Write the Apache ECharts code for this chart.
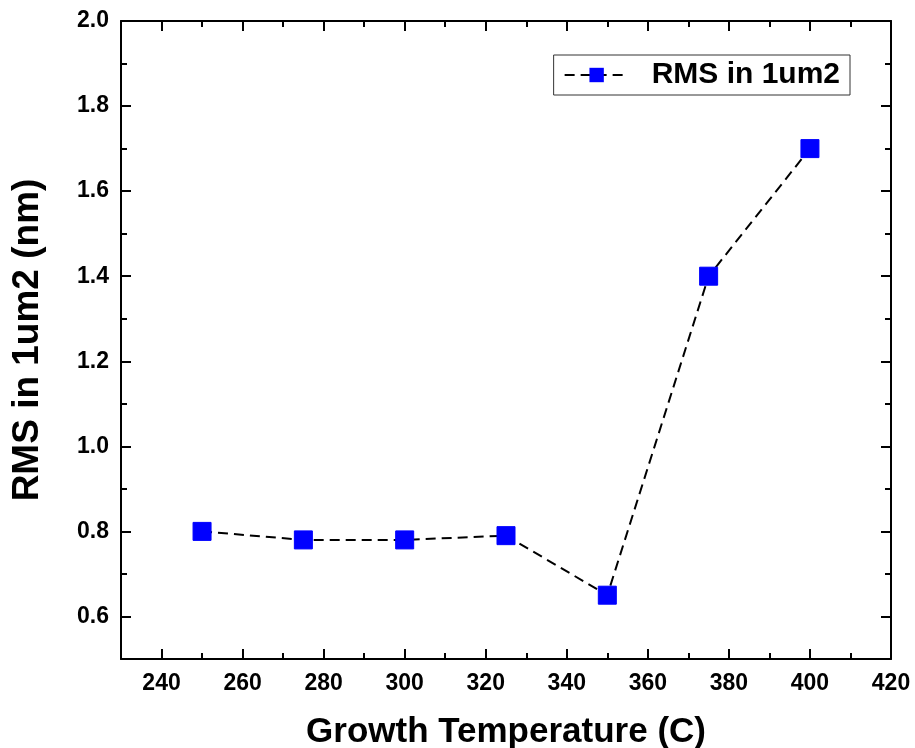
<!DOCTYPE html>
<html lang="en">
<head>
    <meta charset="UTF-8">
    <title>RMS vs Growth Temperature</title>
    <script src="https://cdn.jsdelivr.net/npm/echarts/dist/echarts.min.js"></script>
</head>
<body style="margin:0;background:#fff;">
    <div id="main" style="width: 915px; height: 748px;"></div>
    <script>
        // data
        var temps = [250, 275, 300, 325, 350, 375, 400];
        var rms = [0.80, 0.78, 0.78, 0.79, 0.65, 1.40, 1.70];
        var xMajor = [240, 260, 280, 300, 320, 340, 360, 380, 400, 420];
        var xMinor = [250, 270, 290, 310, 330, 350, 370, 390, 410];
        var yMajor = [0.6, 0.8, 1.0, 1.2, 1.4, 1.6, 1.8, 2.0];
        var yMinor = [0.7, 0.9, 1.1, 1.3, 1.5, 1.7, 1.9];

        var chart = echarts.init(document.getElementById('main'));
        var font = 'Liberation Sans, Arial, sans-serif';
        var lineStyle = { color: '#000', width: 2 };

        // helper for extra axes (frame / minor ticks)
        function xAx(pos, ticks, len, showLine, showLabel) {
            return {
                type: 'value', position: pos, min: 230, max: 420,
                splitLine: { show: false },
                axisLine: { show: showLine, onZero: false, lineStyle: lineStyle },
                axisTick: { show: true, inside: true, length: len, customValues: ticks, lineStyle: lineStyle },
                axisLabel: showLabel ? {
                    customValues: xMajor, fontFamily: font, fontWeight: 'bold',
                    fontSize: 23, color: '#000', margin: 13
                } : { show: false }
            };
        }
        function yAx(pos, ticks, len, showLine, showLabel) {
            return {
                type: 'value', position: pos, min: 0.5, max: 2.0,
                splitLine: { show: false },
                axisLine: { show: showLine, onZero: false, lineStyle: lineStyle },
                axisTick: { show: true, inside: true, length: len, customValues: ticks, lineStyle: lineStyle },
                axisLabel: showLabel ? {
                    customValues: yMajor, fontFamily: font, fontWeight: 'bold',
                    fontSize: 23, color: '#000', margin: 12,
                    formatter: function (v) { return v.toFixed(1); }
                } : { show: false }
            };
        }

        var xBottom = xAx('bottom', xMajor, 10, true, true);
        xBottom.name = 'Growth Temperature (C)';
        xBottom.nameLocation = 'middle';
        xBottom.nameGap = 56;
        xBottom.nameTextStyle = { fontFamily: font, fontWeight: 'bold', fontSize: 35, color: '#000' };

        var yLeft = yAx('left', yMajor, 10, true, true);
        yLeft.name = 'RMS in 1um2 (nm)';
        yLeft.nameLocation = 'middle';
        yLeft.nameGap = 75;
        yLeft.nameTextStyle = { fontFamily: font, fontWeight: 'bold', fontSize: 37, color: '#000' };

        var option = {
            backgroundColor: '#fff',
            animation: false,
            grid: { left: 121, right: 24, top: 21, bottom: 89, outerBoundsMode: 'none' },
            legend: {
                data: ['RMS in 1um2'],
                right: 65,
                top: 55,
                padding: [5, 10, 5, 10],
                borderColor: '#333',
                borderWidth: 1,
                itemWidth: 64,
                itemHeight: 18,
                itemGap: 10,
                textStyle: { fontFamily: font, fontWeight: 'bold', fontSize: 30, color: '#000', padding: [0, 0, 0, 18] }
            },
            xAxis: [
                xBottom,
                xAx('bottom', xMinor, 6, false, false),
                xAx('top', xMajor, 10, true, false),
                xAx('top', xMinor, 6, false, false)
            ],
            yAxis: [
                yLeft,
                yAx('left', yMinor, 6, false, false),
                yAx('right', yMajor, 10, true, false),
                yAx('right', yMinor, 6, false, false)
            ],
            series: [{
                name: 'RMS in 1um2',
                type: 'line',
                data: temps.map(function (t, i) { return [t, rms[i]]; }),
                symbol: 'rect',
                symbolSize: 18,
                itemStyle: { color: '#0000ff', borderColor: '#0000ff' },
                lineStyle: { color: '#000', width: 2, type: [10, 6] },
                z: 3
            }]
        };

        chart.setOption(option);
    </script>
</body>
</html>
